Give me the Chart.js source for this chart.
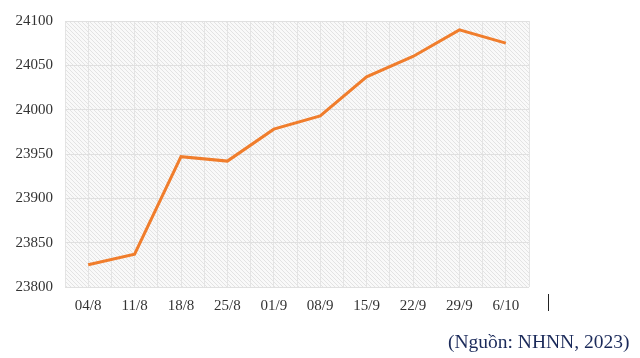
<!DOCTYPE html>
<html>
<head>
<meta charset="utf-8">
<script src="https://cdn.jsdelivr.net/npm/chart.js@4/dist/chart.umd.min.js"></script>
<style>
  html, body { margin: 0; padding: 0; background: #fff; }
  #wrap { position: relative; width: 640px; height: 358px; }
  #source {
    position: absolute; left: 448px; top: 331px;
    font-family: "Liberation Serif", serif; font-size: 19.5px;
    color: #1b2a5a; white-space: nowrap;
  }
  #bar { position: absolute; left: 548px; top: 294px; width: 1px; height: 17px; background: #222; }
</style>
</head>
<body>
<div id="wrap">
  <canvas id="rateChart" width="640" height="358"></canvas>
  <div id="bar"></div>
  <div id="source">(Nguồn: NHNN, 2023)</div>
</div>
<script>
// dates (week) and central rate VND/USD
const dates = ["04/8", "11/8", "18/8", "25/8", "01/9", "08/9", "15/9", "22/9", "29/9", "6/10"];
const rates = [23825, 23837, 23947, 23942, 23978, 23993, 24037, 24060, 24090, 24075];
const yMin = 23800;
const yMax = 24100;
const yStep = 50;

// hatched background for the plot area
const pat = document.createElement("canvas");
pat.width = 4;
pat.height = 4;
const pc = pat.getContext("2d");
pc.fillStyle = "#f9f9f9";
pc.fillRect(0, 0, 4, 4);
pc.strokeStyle = "#e3e3e3";
pc.lineWidth = 1;
pc.beginPath();
pc.moveTo(0, 0);
pc.lineTo(4, 4);
pc.moveTo(-1, 3);
pc.lineTo(1, 5);
pc.moveTo(3, -1);
pc.lineTo(5, 1);
pc.stroke();

const hatch = {
  id: "hatch",
  beforeDraw(chart) {
    const a = chart.chartArea;
    const c = chart.ctx;
    c.save();
    c.fillStyle = c.createPattern(pat, "repeat");
    c.fillRect(a.left, a.top, a.right - a.left, a.bottom - a.top);
    c.restore();
  },
};

const ctx = document.getElementById("rateChart").getContext("2d");
const rateChart = new Chart(ctx, {
  type: "line",
  data: {
    labels: dates,
    datasets: [
      {
        label: "Tỷ giá",
        data: rates,
        borderColor: "#f07d2c",
        backgroundColor: "#f07d2c",
        borderWidth: 3,
        pointRadius: 0,
        tension: 0,
      },
    ],
  },
  options: {
    responsive: false,
    animation: false,
    layout: { padding: { top: 21, right: 111, bottom: 0, left: 0 } },
    plugins: { legend: { display: false }, tooltip: { enabled: false } },
    scales: {
      x: {
        offset: true,
        grid: { color: "#e4e4e4", drawTicks: false, offset: true },
        border: { display: false },
        ticks: {
          padding: 10,
          color: "#333",
          font: { family: "Liberation Serif", size: 15 },
        },
        afterFit(s) { s.height = 71; },
      },
      x2: {
        type: "category",
        labels: dates,
        offset: true,
        position: "bottom",
        grid: { color: "#e4e4e4", drawTicks: false, offset: false },
        border: { display: false },
        ticks: { display: false },
        afterFit(s) { s.height = 0; },
      },
      y: {
        min: yMin,
        max: yMax,
        grid: { color: "#e0e0e0", drawTicks: false },
        border: { display: false },
        ticks: {
          stepSize: yStep,
          padding: 12,
          color: "#333",
          font: { family: "Liberation Serif", size: 15 },
          callback: (v) => String(v),
        },
        afterFit(s) { s.width = 65; },
      },
    },
  },
  plugins: [hatch],
});
</script>
</body>
</html>
